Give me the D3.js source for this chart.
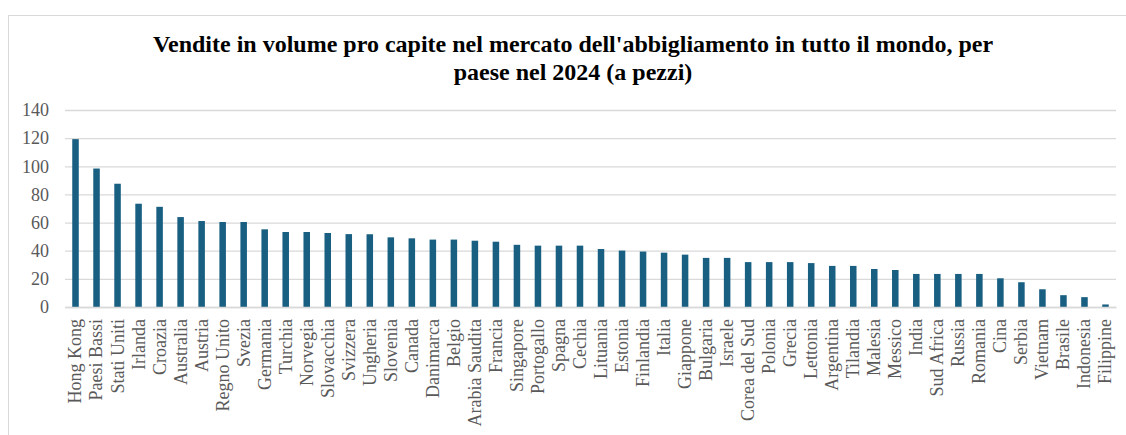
<!DOCTYPE html>
<html>
<head>
<meta charset="utf-8">
<script src="https://cdn.jsdelivr.net/npm/d3@7"></script>
<style>
  body { margin: 0; background: #fff; }
  svg { display: block; }
</style>
</head>
<body>
<div id="chart"></div>
<script>
var paesi = ['Hong Kong', 'Paesi Bassi', 'Stati Uniti', 'Irlanda', 'Croazia', 'Australia', 'Austria',
  'Regno Unito', 'Svezia', 'Germania', 'Turchia', 'Norvegia', 'Slovacchia', 'Svizzera', 'Ungheria',
  'Slovenia', 'Canada', 'Danimarca', 'Belgio', 'Arabia Saudita', 'Francia', 'Singapore', 'Portogallo',
  'Spagna', 'Cechia', 'Lituania', 'Estonia', 'Finlandia', 'Italia', 'Giappone', 'Bulgaria', 'Israele',
  'Corea del Sud', 'Polonia', 'Grecia', 'Lettonia', 'Argentina', 'Tilandia', 'Malesia', 'Messico',
  'India', 'Sud Africa', 'Russia', 'Romania', 'Cina', 'Serbia', 'Vietnam', 'Brasile', 'Indonesia',
  'Filippine'];

var pezzi = [119.3, 98.4, 87.6, 73.4, 71.2, 63.9, 61.1, 60.4, 60.4, 55.2, 53.3, 53.3, 52.6, 51.8, 51.7,
  49.5, 48.8, 47.9, 47.9, 47.1, 46.4, 44.2, 43.6, 43.6, 43.6, 41.2, 40.1, 39.4, 38.6, 37.2, 34.9, 34.9,
  31.9, 31.9, 31.9, 31.2, 29.2, 29.2, 27.0, 26.3, 23.5, 23.5, 23.5, 23.5, 20.4, 17.6, 12.6, 8.4, 7.0,
  1.8];

var yTicks = [0, 20, 40, 60, 80, 100, 120, 140];

var titolo = ["Vendite in volume pro capite nel mercato dell'abbigliamento in tutto il mondo, per",
  "paese nel 2024 (a pezzi)"];

var serif = "'Liberation Serif', 'Times New Roman', Times, serif";

var width = 1126,
    height = 435,
    margin = {top: 110, right: 10, bottom: 128, left: 65};

var svg = d3.select("#chart")
  .append("svg")
    .attr("width", width)
    .attr("height", height);

// cornice grigia del grafico
svg.append("rect")
    .attr("x", 8.5)
    .attr("y", 15.5)
    .attr("width", 1140)
    .attr("height", 440)
    .attr("fill", "none")
    .attr("stroke", "#d9d9d9");

svg.append("g")
    .selectAll("text")
    .data(titolo)
    .enter().append("text")
      .attr("x", 573)
      .attr("y", function(d, i) { return 52 + i * 28; })
      .attr("text-anchor", "middle")
      .style("font-family", serif)
      .style("font-weight", "bold")
      .style("font-size", "24px")
      .style("fill", "#000")
      .text(function(d) { return d; });

var x = d3.scaleBand()
    .domain(paesi)
    .range([margin.left, width - margin.right])
    .paddingInner(0.69)
    .paddingOuter(0.345);

var y = d3.scaleLinear()
    .domain([0, 140])
    .range([height - margin.bottom, margin.top]);

var yAxis = svg.append("g")
    .attr("transform", "translate(" + margin.left + ",0)")
    .call(d3.axisLeft(y)
      .tickValues(yTicks)
      .tickSize(-(width - margin.right - margin.left))
      .tickPadding(16));

yAxis.select(".domain").remove();
yAxis.selectAll(".tick line")
    .attr("stroke", "#d9d9d9")
    .attr("stroke-width", 1.3);
yAxis.selectAll(".tick text")
    .style("font-family", serif)
    .style("font-size", "18px")
    .style("fill", "#595959");

svg.append("g")
    .selectAll("rect")
    .data(pezzi)
    .enter().append("rect")
      .attr("x", function(d, i) { return x(paesi[i]); })
      .attr("y", function(d) { return y(d); })
      .attr("width", x.bandwidth())
      .attr("height", function(d) { return y(0) - y(d); })
      .attr("fill", "#185f82");

var xAxis = svg.append("g")
    .attr("transform", "translate(0," + y(0) + ")")
    .call(d3.axisBottom(x).tickSize(0).tickPadding(0));

xAxis.select(".domain")
    .attr("stroke", "#d9d9d9")
    .attr("stroke-width", 1.3);
xAxis.selectAll(".tick text")
    .attr("transform", "rotate(-90)")
    .attr("x", -12)
    .attr("y", 0)
    .attr("dy", "0.33em")
    .attr("text-anchor", "end")
    .style("font-family", serif)
    .style("font-size", "18px")
    .style("fill", "#595959");
</script>
</body>
</html>
